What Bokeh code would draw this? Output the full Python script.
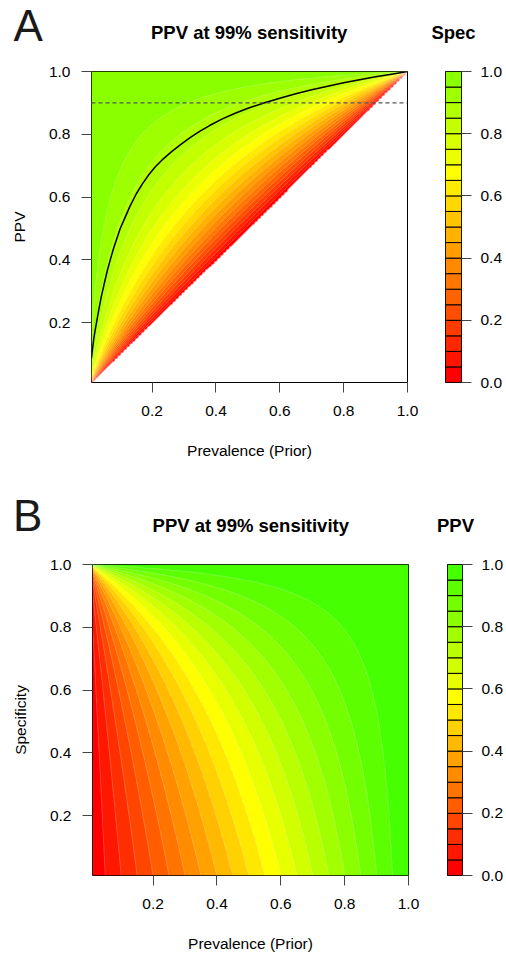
import numpy as np
from bokeh.plotting import figure
from bokeh.layouts import column, row
from bokeh.models import (Range1d, FixedTicker, PrintfTickFormatter,
                          LinearColorMapper, Label, Span)
from bokeh.embed import file_html
from bokeh.resources import INLINE

# ---------------- data ----------------
sensitivity = 0.99
axis_min = 0.01
axis_max = 1.0
levels = [0.00, 0.05, 0.10, 0.15, 0.20, 0.25, 0.30, 0.35, 0.40, 0.45, 0.50,
          0.55, 0.60, 0.65, 0.70, 0.75, 0.80, 0.85, 0.90, 0.95, 1.00]
palette_spec = ["#FF0000", "#FF1400", "#FF2700", "#FF3B00", "#FF4E00",
                "#FF6200", "#FF7600", "#FF8900", "#FF9D00", "#FFB100",
                "#FFC400", "#FFD800", "#FFEB00", "#FFFF00", "#EBFF00",
                "#D8FF00", "#C4FF00", "#B1FF00", "#9DFF00", "#89FF00"]
palette_ppv = ["#FF0000", "#FF1700", "#FF2E00", "#FF4600", "#FF5D00",
               "#FF7400", "#FF8B00", "#FFA200", "#FFB900", "#FFD100",
               "#FFE800", "#FFFF00", "#E8FF00", "#D1FF00", "#B9FF00",
               "#A2FF00", "#8BFF00", "#74FF00", "#5DFF00", "#46FF00"]
axis_ticks = [0.2, 0.4, 0.6, 0.8, 1.0]
legend_ticks = [0.0, 0.2, 0.4, 0.6, 0.8, 1.0]
ppv_threshold = 0.9
curve_prevalence = [0.01, 0.013, 0.017, 0.022, 0.03, 0.04, 0.05, 0.06, 0.07,
                    0.08, 0.09, 0.10, 0.115, 0.13, 0.15, 0.17, 0.19, 0.21,
                    0.235, 0.26, 0.29, 0.32, 0.35, 0.38, 0.42, 0.46, 0.50,
                    0.55, 0.60, 0.65, 0.70, 0.75, 0.80, 0.85, 0.90, 0.95, 1.0]
curve_ppv = [0.088, 0.115, 0.148, 0.18, 0.225, 0.28, 0.325, 0.368, 0.405,
             0.44, 0.47, 0.50, 0.535, 0.57, 0.61, 0.643, 0.672, 0.697,
             0.722, 0.744, 0.768, 0.79, 0.81, 0.828, 0.849, 0.867, 0.883,
             0.900, 0.915, 0.929, 0.942, 0.953, 0.964, 0.974, 0.983, 0.9915,
             1.0]

FONT = "Liberation Sans"
TICK_SIZE = "15.5px"
TITLE_SIZE = "18.5px"
TITLE_TEXT = "PPV at 99% sensitivity"

# grid of cell centres
N = 420
edges = np.linspace(axis_min, axis_max, N + 1)
centres = (edges[:-1] + edges[1:]) / 2
P, Q = np.meshgrid(centres, centres)

# Panel A: specificity needed for a prevalence / PPV pair
spec_field = 1 - sensitivity * P * (1 - Q) / (Q * (1 - P))
spec_field[spec_field < 0] = np.nan
# Panel B: PPV for a prevalence / specificity pair
ppv_field = sensitivity * P / (sensitivity * P + (1 - Q) * (1 - P))


def style_axis(ax, ticks, standoff):
    ax.ticker = FixedTicker(ticks=ticks)
    ax.formatter = PrintfTickFormatter(format="%.1f")
    ax.major_tick_in = 0
    ax.major_tick_out = 10
    ax.minor_tick_line_color = None
    ax.major_tick_line_color = "#444444"
    ax.axis_line_color = None
    ax.major_label_text_font = FONT
    ax.major_label_text_font_size = TICK_SIZE
    ax.major_label_text_color = "black"
    ax.major_label_standoff = standoff
    ax.axis_label_text_font = FONT
    ax.axis_label_text_font_size = TICK_SIZE
    ax.axis_label_text_font_style = "normal"
    ax.axis_label_text_color = "black"


def header_fig(height, letter, letter_x, letter_y, title_x, title_y,
               key_title, key_x):
    h = figure(width=506, height=height, x_range=Range1d(0, 506),
               y_range=Range1d(height, 0), output_backend="svg",
               toolbar_location=None, x_axis_location=None,
               y_axis_location=None, min_border=0,
               outline_line_color=None, border_fill_color="white")
    h.xgrid.visible = False
    h.ygrid.visible = False
    h.add_layout(Label(x=letter_x, y=letter_y, text=letter, text_font=FONT,
                       text_font_size="44px", text_align="left",
                       text_baseline="alphabetic", text_color="#1a1a1a"))
    h.add_layout(Label(x=title_x, y=title_y, text=TITLE_TEXT, text_font=FONT,
                       text_font_size=TITLE_SIZE, text_font_style="bold",
                       text_align="center", text_baseline="alphabetic",
                       text_color="black"))
    h.add_layout(Label(x=key_x, y=title_y, text=key_title, text_font=FONT,
                       text_font_size=TITLE_SIZE, text_font_style="bold",
                       text_align="center", text_baseline="alphabetic",
                       text_color="black"))
    return h


def main_fig(z, palette, ylabel, left, height, bottom):
    fw = 316
    p = figure(width=420, height=height, x_range=Range1d(axis_min, axis_max),
               y_range=Range1d(axis_min, axis_max), output_backend="svg",
               toolbar_location=None, min_border_left=left,
               min_border_right=420 - left - fw, min_border_top=10,
               min_border_bottom=bottom, background_fill_color="white",
               border_fill_color="white")
    mapper = LinearColorMapper(palette=palette, low=levels[0], high=levels[-1],
                               nan_color=(255, 255, 255, 0))
    p.image(image=[z], x=axis_min, y=axis_min, dw=axis_max - axis_min,
            dh=axis_max - axis_min, color_mapper=mapper)
    # faint light seams between the filled bands
    try:
        zc = np.where(np.isnan(z), -0.2, z)
        p.contour(centres, centres, zc, levels=levels[1:-1],
                  line_color="white", line_alpha=0.3, line_width=0.8)
    except Exception:
        pass
    p.xgrid.visible = False
    p.ygrid.visible = False
    p.outline_line_color = "black"
    p.outline_line_width = 1
    p.outline_line_alpha = 1
    style_axis(p.xaxis[0], axis_ticks, 13)
    style_axis(p.yaxis[0], axis_ticks, 11)
    p.xaxis.axis_label = "Prevalence (Prior)"
    p.xaxis.axis_label_standoff = 23
    p.yaxis.axis_label = ylabel
    p.yaxis.axis_label_standoff = 18
    return p


def legend_fig(palette, left, height, bottom):
    fw = 16
    lg = figure(width=86, height=height, x_range=Range1d(0, 1),
                y_range=Range1d(levels[0], levels[-1]), output_backend="svg",
                toolbar_location=None, x_axis_location=None,
                y_axis_location="right", min_border_left=left,
                min_border_right=86 - left - fw, min_border_top=10,
                min_border_bottom=bottom, border_fill_color="white")
    lg.quad(left=0, right=1, bottom=levels[:-1], top=levels[1:],
            fill_color=palette, line_color="black", line_width=1)
    lg.xgrid.visible = False
    lg.ygrid.visible = False
    lg.outline_line_color = "black"
    style_axis(lg.yaxis[0], legend_ticks, 9)
    return lg


# Panel A
ha = header_fig(61, "A", 13, 24.5, 248.7, 32, "Spec", 453)
pa = main_fig(spec_field, palette_spec, "PPV", 91, 417, 96)
pa.add_layout(Span(location=ppv_threshold, dimension="width",
                   line_color="#555555", line_width=1.3, line_dash="4 3"))
pa.line(curve_prevalence, curve_ppv, line_color="black", line_width=1.5)
la = legend_fig(palette_spec, 25, 417, 96)

# Panel B
hb = header_fig(76, "B", 12.5, 36.5, 250.3, 47.3, "PPV", 455)
pb = main_fig(ppv_field, palette_ppv, "Specificity", 92, 402, 81)
lb = legend_fig(palette_ppv, 27, 402, 81)

layout = column(ha, row(pa, la), hb, row(pb, lb))

open("out.html", "w").write(file_html(layout, INLINE))
